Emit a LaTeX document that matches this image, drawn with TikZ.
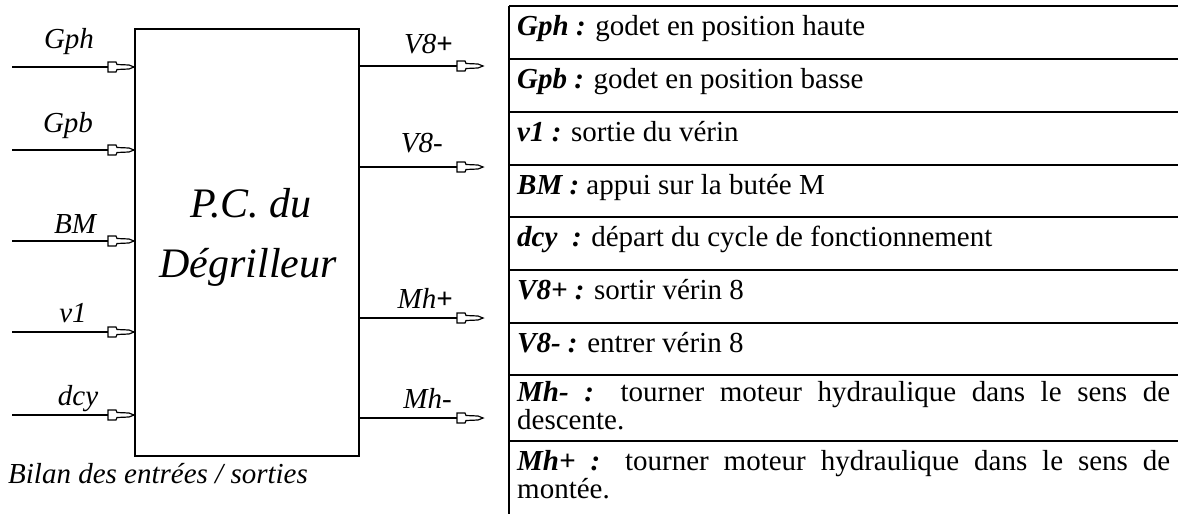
\documentclass[tikz,border=0pt]{standalone}
\usepackage{fontspec}
\setmainfont{Liberation Serif}
\newcommand\Key[1]{\textbf{\textit{#1}}}
\begin{document}
\begin{tikzpicture}[x=1pt,y=-1pt,
  sig/.style={line width=1.3pt},
  lab/.style={font=\fontsize{29}{31}\selectfont\itshape, inner sep=0pt},
  cell/.style={font=\fontsize{29}{31}\selectfont, anchor=base west, inner sep=0pt},
  tabrule/.style={line width=1.8pt},
  pin/.pic={\draw[line width=1.2pt, fill=white] (-26,-5) -- (-18,-5) -- (-17,-2.5) -- (-5,-2) -- (0,0) -- (-5,2) -- (-17,2.5) -- (-18,5) -- (-26,5) -- cycle;}
]
\useasboundingbox (0,0) rectangle (1178,514);
% ---- block ----
\node[draw, line width=1.8pt, minimum width=224pt, minimum height=427pt, inner sep=0pt, anchor=north west] (pc) at (134,28) {};
\node[font=\fontsize{42}{44}\selectfont\itshape, anchor=base, inner sep=0pt] (t1) at (251,217) {P.C. du};
\node[font=\fontsize{42}{44}\selectfont\itshape, anchor=base, inner sep=0pt] (t2) at (248,277) {Dégrilleur};
% ---- inputs ----
\foreach \n/\y/\txt/\lx/\ly in {1/67/Gph/69/48, 2/150/Gpb/68/132, 3/241/BM/75/233, 4/332/v1/73/322, 5/415/dcy/78/405}{
  \coordinate (i\n) at (12,\y);
  \coordinate (e\n) at (i\n -| pc.west);
  \draw[sig] (i\n) -- (e\n);
  \pic at (e\n) {pin};
  \node[lab, anchor=base] (li\n) at (\lx,\ly) {\txt};
}
% ---- outputs ----
\foreach \n/\y/\txt/\lx/\ly in {1/66/{V8\textbf{\upshape +}}/453/53, 2/167/{V8-}/443/152, 3/318/{Mh\textbf{\upshape +}}/453/308, 4/418/{Mh-}/452/408}{
  \coordinate (o\n) at (483,\y);
  \coordinate (s\n) at (pc.east |- o\n);
  \draw[sig] (s\n) -- (o\n);
  \pic at (o\n) {pin};
  \node[lab, anchor=base east] (lo\n) at (\lx,\ly) {\txt};
}
\node[font=\fontsize{29}{31}\selectfont\itshape, anchor=base west, inner sep=0pt] (bilan) at (8,483) {Bilan des entrées / sorties};
% ---- table ----
\draw[tabrule] (509,6) -- (509,514);
\foreach \y in {6,59,112,165,217,270,323,375,441}{
  \draw[tabrule] (509,\y) -- (1178,\y);
}
\node[cell] (r1) at (517,35) {\Key{Gph :} godet en position haute};
\node[cell] (r2) at (517,88) {\Key{Gpb :} godet en position basse};
\node[cell] (r3) at (517,141) {\Key{v1 :} sortie du vérin};
\node[cell] (r4) at (517,194) {\Key{BM :} appui sur la butée M};
\node[cell] (r5) at (517,246) {\Key{dcy}\ \ \Key{:} départ du cycle de fonctionnement};
\node[cell] (r6) at (517,299) {\Key{V8+ :} sortir vérin 8};
\node[cell] (r7) at (517,352) {\Key{V8- :} entrer vérin 8};
\node[cell] (r8) at (517,401) {\makebox[653pt][s]{\Key{Mh- :} tourner moteur hydraulique dans le sens de}};
\node[cell] (r8b) at (517,429) {descente.};
\node[cell] (r9) at (517,470) {\makebox[653pt][s]{\Key{Mh+ :} tourner moteur hydraulique dans le sens de}};
\node[cell] (r9b) at (517,498) {montée.};
\end{tikzpicture}
\end{document}
